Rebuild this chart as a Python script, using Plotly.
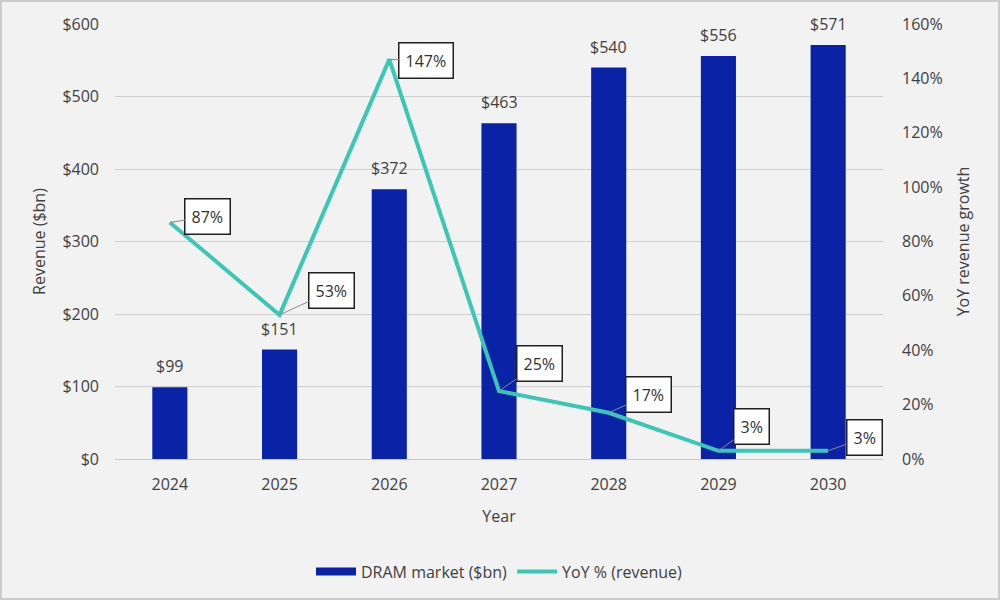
import plotly.graph_objects as go

years = ["2024", "2025", "2026", "2027", "2028", "2029", "2030"]
revenue = [99, 151, 372, 463, 540, 556, 571]
yoy = [87, 53, 147, 25, 17, 3, 3]
revenue_labels = ["$99", "$151", "$372", "$463", "$540", "$556", "$571"]
yoy_labels = ["87%", "53%", "147%", "25%", "17%", "3%", "3%"]
left_ticks = [0, 100, 200, 300, 400, 500, 600]
left_tick_text = ["$0", "$100", "$200", "$300", "$400", "$500", "$600"]
right_ticks = [0, 20, 40, 60, 80, 100, 120, 140, 160]
right_tick_text = ["0%", "20%", "40%", "60%", "80%", "100%", "120%", "140%", "160%"]

# callout offsets (pixels) for YoY labels
callout_ax = [38, 52, 37, 40, 40, 33, 36]
callout_ay = [-6, -24, 1, -28, -18, -24, -13]

FONT = "Open Sans"
TXT = "#404040"
BAR = "#0a22a6"
LINE = "#3cc6b6"

fig = go.Figure()
fig.add_trace(go.Bar(
    x=years, y=revenue, name="DRAM market ($bn)",
    marker=dict(color=BAR, line=dict(width=0)),
    width=0.32, yaxis="y", showlegend=False, hoverinfo="skip",
))
fig.add_trace(go.Scatter(
    x=years, y=yoy, name="YoY % (revenue)", mode="lines",
    line=dict(color=LINE, width=4),
    yaxis="y2", showlegend=False, hoverinfo="skip",
))
# legend entries
fig.add_trace(go.Scatter(
    x=[None], y=[None], name="DRAM market ($bn)", mode="lines",
    line=dict(color=BAR, width=8), yaxis="y", legendrank=1,
))
fig.add_trace(go.Scatter(
    x=[None], y=[None], name="YoY % (revenue)", mode="lines",
    line=dict(color=LINE, width=4), yaxis="y2", legendrank=2,
))

# bar value labels
for i, (v, lab) in enumerate(zip(revenue, revenue_labels)):
    fig.add_annotation(
        x=i, y=v, xref="x", yref="y", text=lab, showarrow=False,
        yanchor="bottom", yshift=8,
        font=dict(size=16, color=TXT, family=FONT),
    )

# YoY callouts
for i, (v, lab) in enumerate(zip(yoy, yoy_labels)):
    fig.add_annotation(
        x=i, y=v, xref="x", yref="y2", text=lab,
        showarrow=True, arrowhead=0, arrowwidth=1, arrowcolor="#8a8a8a",
        ax=callout_ax[i], ay=callout_ay[i],
        bgcolor="white", bordercolor="#202020", borderwidth=1.5, borderpad=6,
        font=dict(size=16, color="#303030", family=FONT),
    )

# thin frame around the whole picture
fig.add_shape(type="rect", xref="paper", yref="paper",
              x0=-114 / 768, x1=1 + 116 / 768, y0=-140 / 435, y1=1 + 23 / 435,
              line=dict(color="#cccccc", width=2), layer="below")

fig.update_layout(
    width=1000, height=600,
    paper_bgcolor="#f2f2f2", plot_bgcolor="#f2f2f2",
    margin=dict(l=115, r=117, t=24, b=141, autoexpand=False),
    font=dict(family=FONT, color=TXT, size=16),
    showlegend=True,
    legend=dict(orientation="h", x=0.5, xanchor="center", y=-0.22, yanchor="top",
                font=dict(size=16, color=TXT), bgcolor="rgba(0,0,0,0)",
                itemwidth=40, traceorder="normal"),
    xaxis=dict(
        type="category", showgrid=False, showline=True, linecolor="#c8c8c8", linewidth=1,
        ticks="", tickfont=dict(size=16, color=TXT), automargin=False,
        ticklabelstandoff=11,
        title=dict(text="Year", font=dict(size=16, color=TXT), standoff=16),
    ),
    yaxis=dict(
        range=[0, 600], tickvals=left_ticks, ticktext=left_tick_text,
        showgrid=True, gridcolor="#cfcfcf", gridwidth=1, zeroline=False,
        tickfont=dict(size=16, color=TXT), ticks="", ticklabelstandoff=15,
        automargin=False,
        title=dict(text="Revenue ($bn)", font=dict(size=16, color=TXT), standoff=12),
    ),
    yaxis2=dict(
        range=[0, 160], tickvals=right_ticks, ticktext=right_tick_text,
        overlaying="y", side="right", showgrid=False, zeroline=False,
        tickfont=dict(size=16, color=TXT), ticks="", ticklabelstandoff=18,
        automargin=False,
        title=dict(text="YoY revenue growth", font=dict(size=16, color=TXT), standoff=16),
    ),
)

fig.write_html("out.html", config={"displayModeBar": False},
               post_script="document.body.style.margin='0';document.body.style.padding='0';")
